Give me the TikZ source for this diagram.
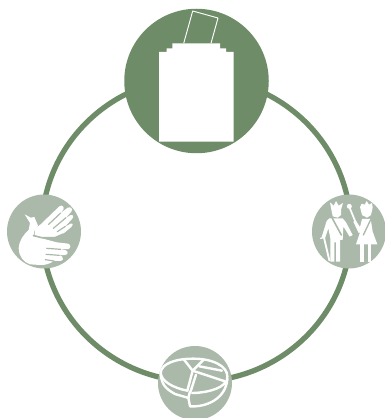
\documentclass[tikz,border=0pt]{standalone}
\usepackage{xcolor}
\usepackage{tikz}
\usetikzlibrary{positioning}

\begin{document}
\begin{tikzpicture}[
  x=0.02646cm,
  y=-0.02646cm,
  bigdisc/.style={circle,fill=votegreen,minimum size=144.5*0.02646cm,inner sep=0pt},
  smalldisc/.style={circle,fill=votesage,minimum size=74*0.02646cm,inner sep=0pt},
  ringline/.style={draw=votegreen,line width=4pt},
  iconfill/.style={fill=white,draw=none},
  iconline/.style={draw=white,line width=1.8pt,line join=round,line cap=round},
  iconthin/.style={draw=white,line width=0.7pt,line join=round},
  iconcut/.style={draw=votesage,line width=0.9pt,line cap=round}
]
  \definecolor{votegreen}{HTML}{6F8C68}
  \definecolor{votesage}{HTML}{ABB9AB}

  \useasboundingbox (0,0) rectangle (385,418);

  \begin{scope}
    \clip (0,0) rectangle (385,418);
    \draw[ringline] (196.3,229.5) ellipse (154.5 and 152);

    \node[bigdisc] (ballot) at (196.5,81) {};
    \node[smalldisc] (hands) at (44,231.5) {};
    \node[smalldisc] (couple) at (349,231.5) {};
    \node[smalldisc] (pie) at (195,383) {};

    % ballot box
    \fill[iconfill] (159,141.7) -- (159,52) -- (166.7,52) -- (166.7,48.3) -- (172.3,48.3)
      -- (172.3,43.3) -- (220,43.3) -- (220,48.3) -- (226,48.3) -- (226,52)
      -- (233.7,52) -- (233.7,141.7) -- cycle;
    \draw[iconthin] (183.7,43.3) -- (192.7,11) -- (218,18) -- (211,43.3);

    % hands
    \begin{scope}[shift={(0,185)},x=0.02646cm/3,y=-0.02646cm/3]
      \fill[iconfill] (105,130) -- (122,118) -- (178,64) .. controls (186,58) and (194,66) .. (190,74)
        -- (180,86) -- (203,68) .. controls (212,64) and (220,72) .. (214,80) -- (196,100)
        -- (212,90) .. controls (220,88) and (222,96) .. (216,102) -- (194,126)
        -- (212,116) .. controls (220,114) and (220,122) .. (214,126) -- (190,146)
        -- (165,156) -- (125,156) -- (104,150) -- cycle;
      \fill[iconfill] (74,88) -- (92,98) -- (103,96) -- (114,122) -- (104,136) -- (100,152)
        -- (125,160) -- (170,172) -- (205,176) .. controls (214,180) and (212,192) .. (204,192)
        -- (180,193) -- (198,196) .. controls (206,200) and (204,210) .. (194,210)
        -- (176,211) -- (186,214) .. controls (192,218) and (190,228) .. (180,228)
        -- (160,228) .. controls (150,236) and (140,240) .. (120,240)
        -- (90,238) .. controls (70,232) and (56,212) .. (56,190)
        .. controls (58,165) and (70,150) .. (86,135) -- (90,114) -- cycle;
      \draw[iconcut] (182,84) -- (146,118);
      \draw[iconcut] (198,98) -- (160,130);
      \draw[iconcut] (196,124) -- (172,140);
      \draw[iconcut,line width=1.1pt] (100,152) -- (125,158) -- (165,158) -- (190,147);
      \draw[iconcut] (182,193) -- (140,190);
      \draw[iconcut] (178,211) -- (138,208);
      \draw[iconcut] (162,228) -- (136,224);
    \end{scope}

    % couple
    \begin{scope}[shift={(300,185)},x=0.02646cm/3,y=-0.02646cm/3]
      \fill[iconfill] (94,74) -- (90,52) -- (101,62) -- (108,48) -- (116,62) -- (129,54) -- (123,74)
        -- (123,90) -- (113,98) -- (98,94) -- cycle;
      \fill[iconfill] (88,100) -- (128,100) -- (138,112) -- (158,150) -- (149,155) -- (130,124)
        -- (128,165) -- (120,165) -- (120,230) -- (108,230) -- (108,172) -- (103,172) -- (103,230)
        -- (91,230) -- (91,160) -- (85,130) -- (75,160) -- (65,156) -- (80,108) -- cycle;
      \draw[iconcut,line width=1.2pt] (97,100) -- (124,150);
      \draw[draw=white,line width=1.4pt,line cap=round] (72,158) -- (88,226);
      \draw[draw=white,line width=1pt,line cap=round] (62,160) -- (74,156);
      \draw[draw=white,line width=1.3pt,line cap=round] (148,66) -- (176,134);
      \fill[iconfill] (148,64) circle (7.5);
      \fill[iconfill] (180,66) -- (185,56) -- (194,59) -- (200,48) -- (207,59) -- (216,54) -- (218,68)
        -- (213,90) -- (201,98) -- (186,90) -- cycle;
      \fill[iconfill] (186,102) -- (212,102) -- (218,140) -- (232,178) -- (168,178) -- (180,142)
        -- (176,144) -- (160,110) -- (167,106) -- (180,126) -- cycle;
      \fill[iconfill] (181,176) -- (192,176) -- (192,230) -- (181,230) -- cycle;
      \fill[iconfill] (203,176) -- (214,176) -- (214,230) -- (203,230) -- cycle;
      \draw[iconcut,line width=1pt] (212,104) -- (190,150);
    \end{scope}

    % pie
    \begin{scope}[shift={(150,338)},x=0.02646cm/3,y=-0.02646cm/3]
      \draw[iconline] (32,105) .. controls (34,75) and (80,62) .. (130,62)
        .. controls (190,62) and (232,85) .. (232,115) .. controls (232,130) and (228,135) .. (225,138);
      \draw[iconline] (32,105) .. controls (34,130) and (70,150) .. (112,158);
      \draw[iconline] (32,105) .. controls (34,135) and (42,150) .. (75,168) -- (116,180);
      \draw[iconline] (120,160) -- (115,180) -- (120,205)
        .. controls (165,208) and (228,185) .. (232,122);
      \draw[iconline] (126,165) .. controls (160,165) and (215,155) .. (228,130);
      \draw[iconline] (102,65) -- (128,98) -- (112,158);
      \draw[iconline] (128,98) -- (225,130);
      \draw[iconline] (138,110) -- (122,160);
      \draw[iconline] (128,98) -- (160,66);
      \draw[iconline] (148,85) -- (216,98);
    \end{scope}
  \end{scope}
\end{tikzpicture}
\end{document}
